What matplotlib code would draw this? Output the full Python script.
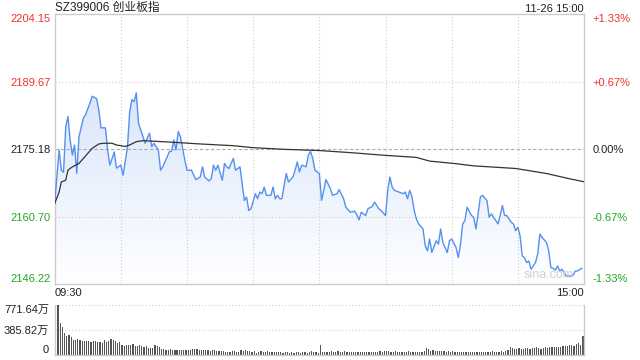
import numpy as np
import matplotlib
matplotlib.use("Agg")
import matplotlib.pyplot as plt
from matplotlib.colors import LinearSegmentedColormap

plt.rcParams['font.family'] = ['Liberation Sans', 'Noto Sans CJK SC', 'DejaVu Sans']

title = "SZ399006 创业板指"
stamp = "11-26 15:00"
prev_close = 2175.18
price_ticks = [2204.15, 2189.67, 2175.18, 2160.70, 2146.22]
pct_labels = ["+1.33%", "+0.67%", "0.00%", "-0.67%", "-1.33%"]
vol_ticks = [0, 385.82, 771.64]
vol_labels = ["0", "385.82万", "771.64万"]

# minute offsets from 09:30 (trading minutes) and price
price_t = [0, 2, 3, 4, 5, 6, 7, 8, 9, 10, 11, 13, 14, 16, 17, 19, 20, 21, 23, 24,
           25, 27, 28, 30, 31, 33, 34, 35, 36, 37, 38, 39, 41, 43, 44, 45, 47, 48, 49, 51,
           52, 53, 54, 55, 56, 57, 59, 60, 62, 64, 66, 67, 68, 70, 71, 72, 73, 74, 76, 77,
           78, 79, 81, 82, 84, 85, 86, 87, 88, 89, 91, 92, 93, 94, 95, 96, 98, 99, 100, 101,
           102, 103, 105, 106, 108, 109, 110, 111, 112, 114, 115, 116, 117, 118, 120, 121, 122, 123, 125, 126,
           128, 129, 131, 132, 134, 136, 137, 138, 139, 141, 142, 144, 145, 147, 148, 150, 151, 152, 153, 154,
           156, 158, 159, 160, 161, 162, 163, 164, 165, 167, 168, 169, 170, 171, 173, 174, 175, 176, 178, 179,
           180, 182, 183, 184, 185, 186, 187, 189, 190, 191, 192, 193, 194, 196, 197, 198, 199, 201, 202, 203,
           204, 205, 207, 208, 209, 210, 211, 212, 213, 214, 215, 216, 218, 219, 220, 221, 223, 224, 225, 226,
           227, 228, 229, 230, 231, 232, 234, 235, 236, 237, 239]
price_v = [2163.56, 2175.03, 2170.70, 2170.27, 2180.00, 2182.23, 2177.19, 2173.95, 2176.11, 2170.06,
           2177.84, 2181.89, 2182.60, 2185.13, 2186.56, 2186.06, 2183.68, 2179.79, 2179.79, 2175.03,
           2171.78, 2174.60, 2171.14, 2171.78, 2169.62, 2175.68, 2183.25, 2185.84, 2185.41, 2187.29,
           2180.80, 2179.35, 2176.48, 2178.64, 2175.74, 2176.48, 2175.03, 2170.70, 2171.42, 2173.58,
           2174.66, 2174.81, 2177.19, 2175.03, 2178.99, 2177.91, 2172.87, 2170.70, 2170.70, 2168.69,
           2169.25, 2171.42, 2169.25, 2168.39, 2168.91, 2171.78, 2170.70, 2171.78, 2168.54, 2172.15,
           2171.42, 2171.07, 2173.23, 2170.70, 2171.42, 2167.83, 2164.21, 2164.93, 2162.05, 2162.42,
           2165.66, 2164.58, 2166.01, 2165.66, 2167.09, 2165.30, 2165.30, 2167.09, 2164.58, 2165.30,
           2164.58, 2164.58, 2169.99, 2168.17, 2169.25, 2170.70, 2172.50, 2170.34, 2171.78, 2171.42,
           2173.95, 2174.70, 2173.23, 2170.70, 2169.99, 2164.21, 2166.38, 2168.69, 2166.74, 2165.30,
           2165.66, 2166.53, 2164.58, 2162.76, 2161.68, 2161.90, 2161.18, 2160.04, 2161.68, 2160.97,
           2162.42, 2162.92, 2163.85, 2162.42, 2162.05, 2160.97, 2166.38, 2169.25, 2167.09, 2166.38,
           2166.01, 2165.66, 2166.01, 2164.58, 2166.38, 2164.93, 2162.05, 2160.26, 2159.17, 2158.09,
           2154.48, 2153.40, 2155.93, 2153.03, 2155.56, 2154.85, 2158.09, 2155.19, 2153.03, 2155.56,
           2155.93, 2154.11, 2151.95, 2154.85, 2159.17, 2159.89, 2162.76, 2160.97, 2160.60, 2158.09,
           2161.34, 2164.93, 2165.30, 2164.21, 2160.60, 2161.34, 2160.60, 2159.17, 2160.97, 2163.13,
           2160.97, 2160.97, 2159.52, 2159.17, 2157.72, 2158.44, 2156.64, 2152.32, 2151.95, 2150.87,
           2151.23, 2149.44, 2150.87, 2152.68, 2157.01, 2156.27, 2155.19, 2153.40, 2149.79, 2149.66,
           2149.22, 2150.15, 2149.07, 2149.44, 2148.70, 2147.99, 2147.99, 2148.14, 2149.07, 2149.07,
           2149.66]

avg_t = [0, 2, 3, 5, 6, 8, 11, 13, 15, 17, 20, 22, 26, 28, 32, 34, 37, 40, 54, 66,
         81, 90, 104, 120, 135, 150, 164, 170, 181, 190, 209, 223, 233, 240]
avg_v = [2163.56, 2166.01, 2168.17, 2168.54, 2170.70, 2171.42, 2172.15, 2173.23, 2174.31, 2175.40,
         2176.33, 2176.48, 2176.48, 2176.11, 2175.79, 2176.11, 2176.82, 2177.04, 2176.69, 2176.33,
         2175.96, 2175.53, 2175.18, 2174.92, 2174.44, 2173.88, 2173.45, 2172.65, 2172.15, 2171.63,
         2171.07, 2169.99, 2168.91, 2168.22]

# volume per minute (万)
volume = [231, 771.64, 489, 422, 334, 283, 309, 267, 231, 231, 247, 221, 216, 216, 206, 216, 195, 216, 206, 195,
          195, 180, 226, 195, 206, 247, 221, 206, 180, 195, 154, 139, 154, 149, 149, 165, 139, 129, 154, 129,
          113, 139, 103, 103, 103, 154, 129, 113, 93, 93, 77, 72, 93, 77, 67, 77, 77, 72, 67, 72,
          77, 77, 87, 87, 87, 77, 67, 72, 72, 72, 62, 72, 67, 57, 57, 57, 51, 41, 41, 41,
          62, 51, 41, 41, 72, 62, 72, 62, 51, 41, 51, 31, 41, 62, 41, 41, 51, 41, 41, 41,
          41, 41, 41, 31, 41, 41, 31, 41, 31, 41, 41, 31, 41, 41, 31, 41, 51, 41, 41, 31,
          154, 41, 46, 41, 41, 51, 46, 41, 51, 46, 46, 51, 41, 46, 41, 41, 41, 46, 41, 36,
          41, 41, 36, 46, 46, 41, 46, 51, 46, 51, 62, 51, 46, 41, 51, 46, 41, 46, 41, 41,
          51, 46, 41, 46, 41, 46, 41, 51, 108, 93, 62, 67, 62, 57, 51, 57, 51, 46, 51, 46,
          51, 46, 41, 46, 41, 46, 41, 41, 46, 41, 41, 46, 41, 41, 46, 41, 41, 46, 51, 46,
          41, 41, 51, 46, 62, 72, 118, 98, 82, 87, 103, 82, 87, 98, 103, 93, 98, 108, 118, 103,
          93, 98, 113, 108, 118, 113, 118, 123, 113, 123, 129, 134, 139, 144, 154, 139, 170, 185, 144, 283]

RED = '#f23030'
GREEN = '#22a822'
LINE = '#5590ee'
GRID = '#cfcfcf'
SPINE = '#cccccc'

fig = plt.figure(figsize=(6.4, 3.6), dpi=100)
W, H = 640.0, 360.0
ax = fig.add_axes([54.7 / W, 1 - 284.3 / H, (584 - 54.7) / W, (284.3 - 14.3) / H])
axv = fig.add_axes([54.7 / W, 1 - 354.7 / H, (584 - 54.7) / W, (354.7 - 304.7) / H])

ylo, yhi = price_ticks[-1], price_ticks[0]
ax.set_xlim(0, 240)
ax.set_ylim(ylo, yhi)

# gradient area under price
poly = ax.fill_between(price_t, price_v, ylo, color='none', lw=0)
cmap = LinearSegmentedColormap.from_list('g', ['#ffffff', '#d9e6fb'])
grad = np.linspace(0, 1, 256).reshape(-1, 1)
im = ax.imshow(grad, extent=[0, 240, ylo, max(price_v)], origin='lower', aspect='auto',
               cmap=cmap, zorder=1)
im.set_clip_path(poly.get_paths()[0], transform=ax.transData)
ax.set_xlim(0, 240)
ax.set_ylim(ylo, yhi)

ax.plot(price_t, price_v, color=LINE, lw=1.0, zorder=3)
ax.plot(avg_t, avg_v, color='#333333', lw=0.9, zorder=3)

# grids
for v in price_ticks[1:-1]:
    if v == prev_close:
        ax.axhline(v, color='#aaaaaa', lw=0.8, ls=(0, (3, 2)), zorder=2)
    else:
        ax.axhline(v, color=GRID, lw=0.8, ls=(0, (1, 2)), zorder=2)
for xv in range(30, 240, 30):
    ax.axvline(xv, color=GRID, lw=0.8, ls=(0, (1, 2)), zorder=2)

for s in ax.spines.values():
    s.set_color(SPINE)
    s.set_linewidth(1.0)

ax.set_xticks([])
ax.set_yticks(price_ticks)
ax.set_yticklabels([f"{v:.2f}" for v in price_ticks])
ax.tick_params(axis='y', length=0, pad=3, labelsize=8)
cols = [RED, RED, '#222222', GREEN, GREEN]
for lab, c in zip(ax.get_yticklabels(), cols):
    lab.set_color(c)
labs = ax.get_yticklabels()
labs[0].set_va('top')
labs[-1].set_va('bottom')

ax2 = ax.twinx()
ax2.set_ylim(ylo, yhi)
ax2.set_yticks(price_ticks)
ax2.set_yticklabels(pct_labels)
ax2.tick_params(axis='y', length=0, pad=6, labelsize=8)
for lab, c in zip(ax2.get_yticklabels(), cols):
    lab.set_color(c)
labs2 = ax2.get_yticklabels()
labs2[0].set_va('top')
labs2[-1].set_va('bottom')
for s in ax2.spines.values():
    s.set_visible(False)

ax.text(0, 1.0, title, transform=ax.transAxes, ha='left', va='bottom', fontsize=8.5,
        color='#222222')
ax.text(1.0, 1.0, stamp, transform=ax.transAxes, ha='right', va='bottom', fontsize=8,
        color='#222222')
ax.text(0, -0.015, "09:30", transform=ax.transAxes, ha='left', va='top', fontsize=8, color='#222222')
ax.text(1.0, -0.015, "15:00", transform=ax.transAxes, ha='right', va='top', fontsize=8, color='#222222')
ax.text(0.98, 0.012, "sina.com", transform=ax.transAxes, ha='right', va='bottom', fontsize=9,
        color='#d0d0d0', zorder=4)

# volume
vx = np.arange(len(volume)) + 0.5
axv.bar(vx, volume, width=0.55, color='#555555', lw=0)
axv.set_xlim(0, 240)
axv.set_ylim(0, vol_ticks[-1])
for v in vol_ticks[1:]:
    axv.axhline(v, color=GRID, lw=0.8, ls=(0, (1, 2)), zorder=0)
axv.set_xticks([])
axv.set_yticks(vol_ticks)
axv.set_yticklabels(vol_labels)
axv.tick_params(axis='y', length=0, pad=4, labelsize=8, colors='#222222')
vl = axv.get_yticklabels()
vl[0].set_va('bottom')
vl[-1].set_va('top')
axv.spines['top'].set_visible(False)
for k in ['left', 'right', 'bottom']:
    axv.spines[k].set_color(SPINE)
    axv.spines[k].set_linewidth(1.0)

fig.savefig("out.png", dpi=100)
